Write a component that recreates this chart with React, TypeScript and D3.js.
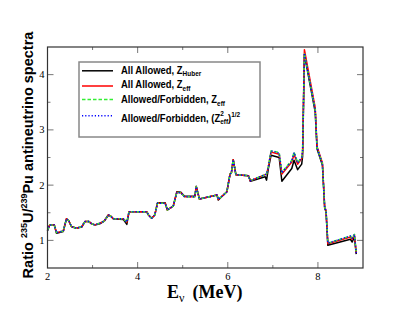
import React, { useRef, useEffect } from 'react';
import * as d3 from 'd3';

// neutrino energy (MeV)
const energy = [2.00, 2.05, 2.15, 2.20, 2.35, 2.42, 2.47, 2.53, 2.64, 2.76,
  2.83, 2.92, 2.98, 3.05, 3.16, 3.26, 3.35, 3.40, 3.46, 3.68,
  3.76, 3.81, 4.20, 4.24, 4.31, 4.38, 4.44, 4.61, 4.66, 4.79,
  4.87, 4.96, 5.04, 5.27, 5.30, 5.37, 5.76, 5.79, 5.98, 6.05,
  6.08, 6.12, 6.18, 6.46, 6.50, 6.83, 6.86, 6.90, 6.96, 7.14,
  7.20, 7.42, 7.47, 7.55, 7.64, 7.66, 7.70, 7.94, 7.98, 8.10,
  8.15, 8.18, 8.22, 8.72, 8.76, 8.81, 8.85];

// All Allowed, Z_Huber
const ratioHuber = [1.18, 1.28, 1.28, 1.13, 1.16, 1.39, 1.36, 1.25, 1.22, 1.24,
  1.34, 1.34, 1.30, 1.28, 1.30, 1.35, 1.46, 1.44, 1.39, 1.38,
  1.29, 1.52, 1.52, 1.46, 1.40, 1.46, 1.68, 1.68, 1.55, 1.62,
  1.88, 1.87, 1.80, 1.80, 1.98, 1.75, 1.82, 1.73, 1.88, 2.20,
  2.22, 2.46, 2.19, 2.17, 2.07, 2.15, 2.09, 2.30, 2.54, 2.50,
  2.07, 2.30, 2.45, 2.28, 2.38, 2.52, 4.36, 3.32, 2.66, 2.36,
  1.58, 1.52, 0.91, 1.02, 0.97, 1.06, 0.75];

// All Allowed, Z_eff
const ratioZeff = [1.18, 1.28, 1.28, 1.14, 1.17, 1.39, 1.36, 1.25, 1.22, 1.25,
  1.34, 1.34, 1.30, 1.28, 1.31, 1.35, 1.46, 1.44, 1.39, 1.39,
  1.33, 1.52, 1.52, 1.46, 1.40, 1.46, 1.67, 1.67, 1.55, 1.62,
  1.87, 1.86, 1.79, 1.79, 1.97, 1.75, 1.82, 1.74, 1.88, 2.20,
  2.22, 2.46, 2.19, 2.17, 2.08, 2.19, 2.20, 2.33, 2.60, 2.56,
  2.20, 2.42, 2.56, 2.38, 2.48, 2.60, 4.45, 3.40, 2.70, 2.40,
  1.60, 1.54, 0.94, 1.06, 1.02, 1.10, 0.77];

// Allowed/Forbidden, Z_eff
const ratioForbidden = [1.18, 1.28, 1.28, 1.14, 1.17, 1.39, 1.36, 1.25, 1.22, 1.25,
  1.34, 1.34, 1.30, 1.28, 1.31, 1.35, 1.46, 1.44, 1.39, 1.39,
  1.33, 1.52, 1.52, 1.46, 1.40, 1.46, 1.67, 1.67, 1.55, 1.62,
  1.87, 1.86, 1.79, 1.79, 1.97, 1.75, 1.82, 1.74, 1.88, 2.20,
  2.22, 2.46, 2.19, 2.17, 2.08, 2.19, 2.20, 2.33, 2.62, 2.59,
  2.23, 2.45, 2.60, 2.41, 2.50, 2.62, 4.38, 3.36, 2.68, 2.38,
  1.60, 1.54, 0.95, 1.08, 1.04, 1.11, 0.77];

// Allowed/Forbidden, (Z_eff^2)^1/2
const ratioForbiddenRms = [1.18, 1.28, 1.28, 1.14, 1.17, 1.39, 1.36, 1.25, 1.22, 1.25,
  1.34, 1.34, 1.30, 1.28, 1.31, 1.35, 1.46, 1.44, 1.39, 1.39,
  1.33, 1.52, 1.52, 1.46, 1.40, 1.46, 1.67, 1.67, 1.55, 1.62,
  1.87, 1.86, 1.79, 1.79, 1.97, 1.75, 1.82, 1.74, 1.88, 2.20,
  2.22, 2.46, 2.19, 2.17, 2.08, 2.19, 2.20, 2.33, 2.62, 2.58,
  2.22, 2.44, 2.59, 2.40, 2.50, 2.62, 4.39, 3.37, 2.68, 2.38,
  1.60, 1.54, 0.95, 1.08, 1.04, 1.11, 0.77];

const xTicks = [2, 4, 6, 8];
const xMinor = [3, 5, 7];
const yTicks = [1, 2, 3, 4];
const yMinor = [1.5, 2.5, 3.5];

const series = [
  { values: ratioHuber, color: '#000000', dash: null },
  { values: ratioZeff, color: '#ff0000', dash: null },
  { values: ratioForbidden, color: '#33ee33', dash: '3.5,2' },
  { values: ratioForbiddenRms, color: '#0000ff', dash: '1.2,2' },
];

function App() {
  const ref = useRef<SVGSVGElement>(null);

  useEffect(() => {
    const svg = d3.select(ref.current);
    svg.selectAll('*').remove();

    const margin = { top: 47, left: 47.5 };
    const width = 315.5;
    const height = 221;

    const x = d3.scaleLinear().domain([2, 9]).range([0, width]);
    const y = d3.scaleLinear().domain([0.5, 4.5]).range([height, 0]);

    const g = svg.append('g').attr('transform', `translate(${margin.left},${margin.top})`);

    // ticks on all four sides, pointing inward
    const tickColor = '#777';
    const ticks = g.append('g').attr('stroke', tickColor).attr('stroke-width', 1);
    const addX = (vals: number[], len: number) => {
      vals.forEach(v => {
        ticks.append('line').attr('x1', x(v)).attr('x2', x(v)).attr('y1', height).attr('y2', height - len);
        ticks.append('line').attr('x1', x(v)).attr('x2', x(v)).attr('y1', 0).attr('y2', len);
      });
    };
    const addY = (vals: number[], len: number) => {
      vals.forEach(v => {
        ticks.append('line').attr('y1', y(v)).attr('y2', y(v)).attr('x1', 0).attr('x2', len);
        ticks.append('line').attr('y1', y(v)).attr('y2', y(v)).attr('x1', width).attr('x2', width - len);
      });
    };
    addX(xTicks, 6);
    addX(xMinor, 3);
    addY(yTicks, 6);
    addY(yMinor, 3);

    // tick labels
    g.append('g').selectAll('text').data(xTicks).enter().append('text')
      .attr('x', d => x(d)).attr('y', height + 12)
      .attr('text-anchor', 'middle')
      .style('font-family', '"Liberation Serif", serif').style('font-size', '10.5px')
      .text(d => d);
    g.append('g').selectAll('text').data(yTicks).enter().append('text')
      .attr('x', -3).attr('y', d => y(d) + 3.5)
      .attr('text-anchor', 'end')
      .style('font-family', '"Liberation Serif", serif').style('font-size', '10.5px')
      .text(d => d);

    // curves
    series.forEach(s => {
      const line = d3.line<number>().x((_, i) => x(energy[i])).y(d => y(d));
      g.append('path').datum(s.values)
        .attr('d', line)
        .attr('fill', 'none')
        .attr('stroke', s.color)
        .attr('stroke-width', 1.5)
        .attr('stroke-linejoin', 'round')
        .attr('stroke-dasharray', s.dash);
    });

    // frame
    g.append('rect').attr('width', width).attr('height', height)
      .attr('fill', 'none').attr('stroke', '#333').attr('stroke-width', 1.2);

    // legend
    const leg = svg.append('g');
    leg.append('rect').attr('x', 79).attr('y', 62).attr('width', 181).attr('height', 75)
      .attr('fill', 'white').attr('stroke', '#888').attr('stroke-width', 1.5);
    const lineYs = [70.8, 86, 99.5, 115.8];
    series.forEach((s, i) => {
      leg.append('line').attr('x1', 82).attr('x2', 113).attr('y1', lineYs[i]).attr('y2', lineYs[i])
        .attr('stroke', s.color).attr('stroke-width', 1.5).attr('stroke-dasharray', s.dash);
    });
    const baseYs = [73.8, 88.5, 103.2, 122];
    const labelG = leg.append('g').attr('transform', 'translate(121,0) scale(0.86,1)')
      .style('font-family', '"Liberation Sans", Arial, sans-serif').style('font-weight', 'bold')
      .style('font-size', '11px');
    const t0 = labelG.append('text').attr('x', 0).attr('y', baseYs[0]);
    t0.append('tspan').text('All Allowed, Z');
    t0.append('tspan').attr('dy', 2.5).style('font-size', '7.5px').text('Huber');
    const t1 = labelG.append('text').attr('x', 0).attr('y', baseYs[1]);
    t1.append('tspan').text('All Allowed, Z');
    t1.append('tspan').attr('dy', 2.5).style('font-size', '7.5px').text('eff');
    const t2 = labelG.append('text').attr('x', 0).attr('y', baseYs[2]);
    t2.append('tspan').text('Allowed/Forbidden, Z');
    t2.append('tspan').attr('dy', 2.5).style('font-size', '7.5px').text('eff');
    const t3 = labelG.append('text').attr('x', 0).attr('y', baseYs[3]);
    t3.append('tspan').text('Allowed/Forbidden, (Z');
    t3.append('tspan').attr('dy', -5.5).style('font-size', '7.5px').text('2');
    t3.append('tspan').attr('dx', -4.2).attr('dy', 8).style('font-size', '7.5px').text('eff');
    t3.append('tspan').attr('dy', -2.5).text(')');
    t3.append('tspan').attr('dy', -5).style('font-size', '7.5px').text('1/2');

    // axis titles
    const yl = svg.append('text')
      .attr('transform', `translate(33,${155}) rotate(-90)`)
      .attr('text-anchor', 'middle')
      .style('font-family', '"Liberation Sans", Arial, sans-serif').style('font-weight', 'bold')
      .style('font-size', '14.5px');
    yl.append('tspan').text('Ratio ');
    yl.append('tspan').attr('dy', -6).style('font-size', '9px').text('235');
    yl.append('tspan').attr('dy', 6).text('U/');
    yl.append('tspan').attr('dy', -6).style('font-size', '9px').text('239');
    yl.append('tspan').attr('dy', 6).text('Pu antineutrino spectra');

    const xl = svg.append('text').attr('x', 167).attr('y', 298)
      .style('font-family', '"Liberation Serif", serif').style('font-weight', 'bold')
      .style('font-size', '18px');
    xl.append('tspan').text('E');
    xl.append('tspan').attr('dy', 4).style('font-size', '12px').style('font-weight', 'normal').text('ν');
    xl.append('tspan').attr('dy', -4).attr('dx', 8).text('(MeV)');
  }, []);

  return (
    <svg ref={ref} width={409} height={316}
      style={{ position: 'absolute', left: 0, top: 0, background: 'white' }} />
  );
}

export default App;
